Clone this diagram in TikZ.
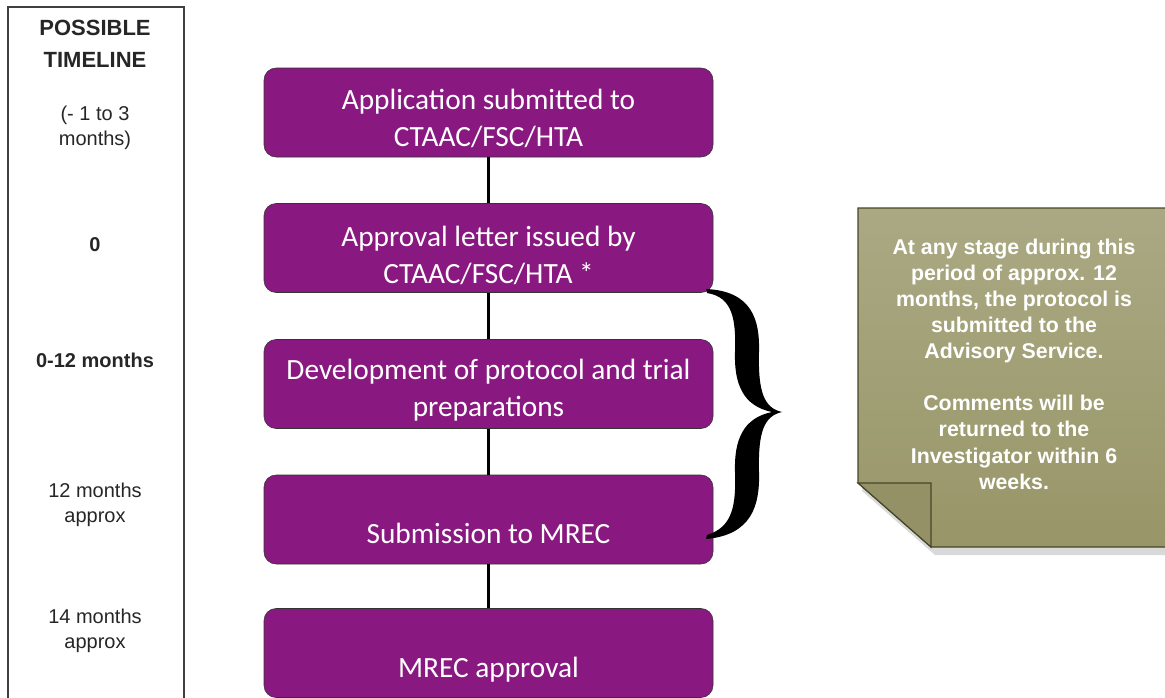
\documentclass[tikz,border=0pt]{standalone}
\usepackage{fontspec}
\setmainfont{Carlito}
\newfontfamily\arialfnt{Liberation Sans}
\usetikzlibrary{shadows}
\definecolor{stagepurple}{RGB}{137,25,129}
\definecolor{noteolive}{RGB}{152,150,104}
\definecolor{noteedge}{RGB}{70,70,40}

\begin{document}
\begin{tikzpicture}[x=0.75pt, y=-0.75pt]
    % Styles
    \tikzstyle{stage} = [rectangle, rounded corners=9pt, draw=black!80, fill=stagepurple, minimum width=336.75pt, minimum height=66.75pt, inner sep=0pt]
    \tikzstyle{stagetext} = [text=white, align=center, inner sep=0pt, font=\fontsize{22}{27.75}\selectfont]
    \tikzstyle{link} = [line width=2pt, black]
    \tikzstyle{when} = [align=center, inner sep=0pt, text=black!85, font=\arialfnt\fontsize{15}{19}\selectfont]
    \tikzstyle{notetext} = [align=center, inner sep=0pt, text=white, font=\arialfnt\bfseries\fontsize{16}{19.6}\selectfont]

    \clip (0,0) rectangle (1165,697);

    % Timeline column
    \draw[black!75, line width=0.9pt] (8,7) rectangle (184,720);
    \node[when, font=\arialfnt\bfseries\fontsize{16.5}{24}\selectfont] (title) at (95,44) {POSSIBLE\\TIMELINE};
    \node[when] (w1) at (95,128) {(- 1 to 3\\months)};
    \node[when, font=\arialfnt\bfseries\fontsize{15}{19}\selectfont] (w2) at (95,245) {0};
    \node[when, font=\arialfnt\bfseries\fontsize{15}{19}\selectfont] (w3) at (95,360) {0-12 months};
    \node[when] (w4) at (95,505) {12 months\\approx};
    \node[when] (w5) at (95,631) {14 months\\approx};

    % Stages
    \node[stage] (apply) at (488.5,112.5) {};
    \node[stage] (approve) at (488.5,248) {};
    \node[stage] (develop) at (488.5,384) {};
    \node[stage] (submit) at (488.5,519.5) {};
    \node[stage] (mrec) at (488.5,653) {};
    \node[stagetext] (apply-txt) at (488.5,118) {Application submitted to\\CTAAC/FSC/HTA};
    \node[stagetext] (approve-txt) at (488.5,255) {Approval letter issued by\\CTAAC/FSC/HTA *};
    \node[stagetext] (develop-txt) at (488.5,390) {Development of protocol and trial\\preparations};
    \node[stagetext] (submit-txt) at (488.5,533) {Submission to MREC};
    \node[stagetext] (mrec-txt) at (488.5,670) {MREC approval};

    % Links
    \draw[link] (apply) -- (approve);
    \draw[link] (approve) -- (develop);
    \draw[link] (develop) -- (submit);
    \draw[link] (submit) -- (mrec);

    % Brace
    \fill[black] (706,289) .. controls (752,291) and (760,320) .. (759,352)
        .. controls (758,392) and (764,408) .. (782,412)
        .. controls (764,416) and (758,432) .. (759,472)
        .. controls (760,505) and (752,535) .. (706,539)
        -- (707,535)
        .. controls (733,527) and (736,505) .. (735,472)
        .. controls (734,440) and (743,418) .. (772,412)
        .. controls (743,406) and (734,384) .. (735,352)
        .. controls (736,320) and (733,297) .. (707,293) -- cycle;

    % Note
    \draw[noteedge, line width=0.9pt, top color=noteolive!82!white, bottom color=noteolive,
          drop shadow={shadow xshift=3pt, shadow yshift=-6pt, opacity=0.3}]
        (858,208) -- (1175,208) -- (1175,547) -- (931,547) -- (858,483) -- cycle;
    \draw[noteedge, line width=0.9pt, fill=noteolive!97!black]
        (858,483) -- (931,483) -- (931,547) -- cycle;
    \node[notetext] (note) at (1014,364) {At any stage during this\\period of approx. 12\\months, the protocol is\\submitted to the\\Advisory Service.\\[19.6pt]Comments will be\\returned to the\\Investigator within 6\\weeks.};
\end{tikzpicture}
\end{document}
